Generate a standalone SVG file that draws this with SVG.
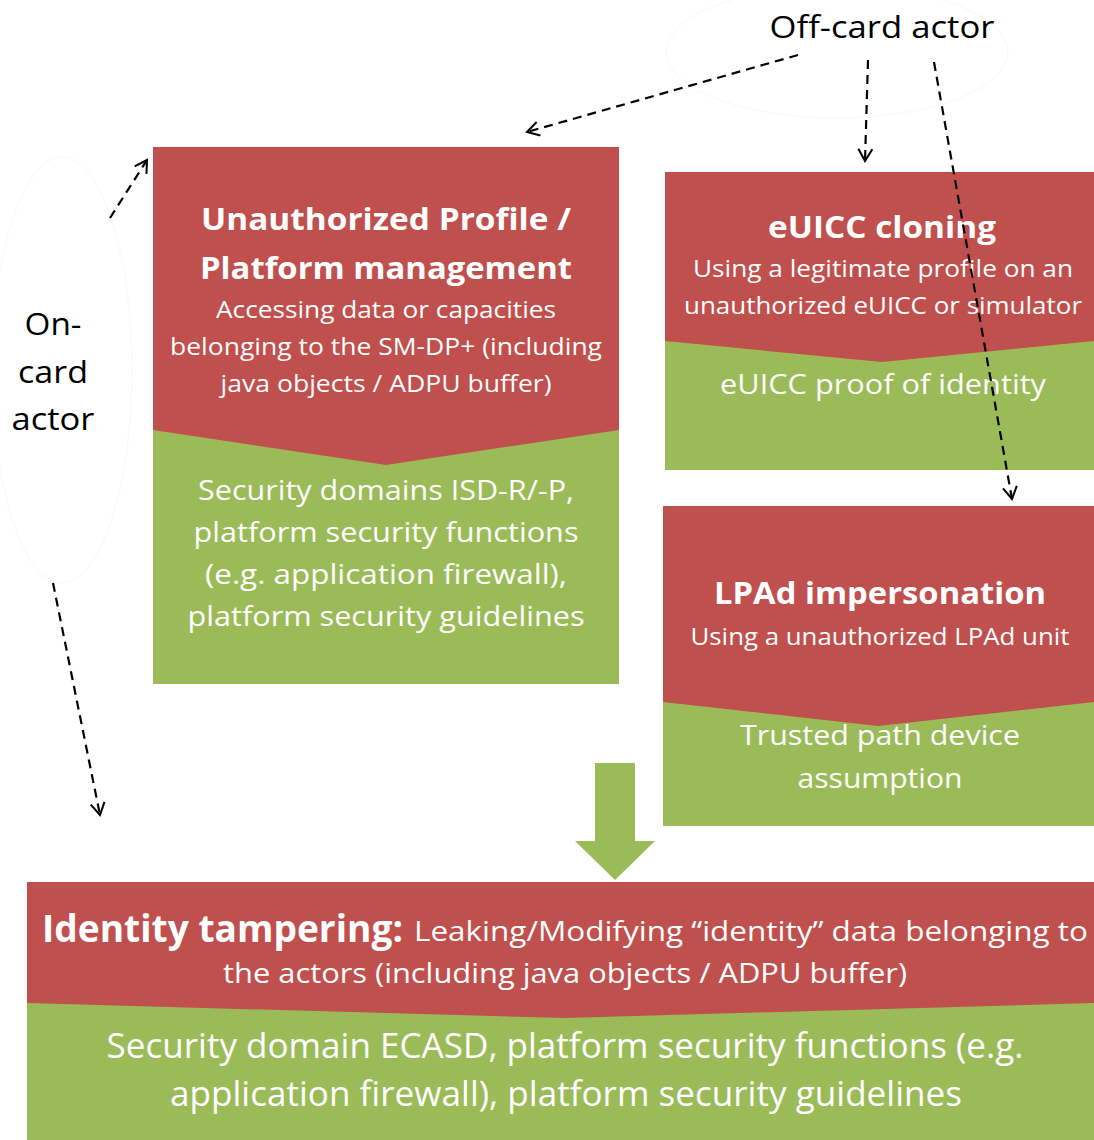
<svg xmlns="http://www.w3.org/2000/svg" width="1094" height="1140" viewBox="0 0 1094 1140">
  <style>
    .red { fill: #C0504D; }
    .green { fill: #9BBB59; }
    .t { font-family: "Open Sans", "Noto Sans", "Liberation Sans", sans-serif; fill: #ffffff; text-anchor: middle; }
    .title { font-weight: bold; font-size: 31px; }
    .sub { font-size: 23px; }
    .ctl { font-size: 27px; }
    .actor { font-family: "Open Sans", "Noto Sans", "Liberation Sans", sans-serif; fill: #000000; text-anchor: middle; font-size: 31px; }
    .dash { fill: none; stroke: #000000; stroke-width: 2.2; stroke-dasharray: 9 6; }
    .halo { fill: none; stroke: #f7f7f7; stroke-width: 1; }
  </style>
  <defs>
    <marker id="open" viewBox="0 0 16 16" refX="14" refY="8" markerWidth="16" markerHeight="16" markerUnits="userSpaceOnUse" orient="auto">
      <path d="M2,1 L14,8 L2,15" fill="none" stroke="#000000" stroke-width="2"/>
    </marker>
  </defs>

  <rect width="1094" height="1140" fill="#ffffff"/>

  <!-- actors -->
  <g id="off-card-actor">
    <ellipse class="halo" cx="837" cy="52" rx="171" ry="66"/>
    <text class="actor" x="882" y="38" textLength="225" lengthAdjust="spacingAndGlyphs">Off-card actor</text>
  </g>
  <g id="on-card-actor">
    <ellipse class="halo" cx="62" cy="370" rx="70" ry="213"/>
    <text class="actor" x="53" y="335" textLength="57" lengthAdjust="spacingAndGlyphs">On-</text>
    <text class="actor" x="53" y="383" textLength="70" lengthAdjust="spacingAndGlyphs">card</text>
    <text class="actor" x="53" y="430" textLength="83" lengthAdjust="spacingAndGlyphs">actor</text>
  </g>

  <!-- Unauthorized Profile / Platform management -->
  <g id="platform-management">
    <rect class="green" x="153" y="147" width="466" height="537"/>
    <polygon class="red" points="153,147 619,147 619,430 386,465 153,430"/>
    <text class="t title" x="386" y="230" textLength="370" lengthAdjust="spacingAndGlyphs">Unauthorized Profile /</text>
    <text class="t title" x="386" y="279" textLength="372" lengthAdjust="spacingAndGlyphs">Platform management</text>
    <text class="t sub" x="386" y="318" textLength="340" lengthAdjust="spacingAndGlyphs">Accessing data or capacities</text>
    <text class="t sub" x="386" y="355" textLength="432" lengthAdjust="spacingAndGlyphs">belonging to the SM-DP+ (including</text>
    <text class="t sub" x="386" y="392" textLength="331" lengthAdjust="spacingAndGlyphs">java objects / ADPU buffer)</text>
    <text class="t ctl" x="386" y="500" textLength="376" lengthAdjust="spacingAndGlyphs">Security domains ISD-R/-P,</text>
    <text class="t ctl" x="386" y="542" textLength="385" lengthAdjust="spacingAndGlyphs">platform security functions</text>
    <text class="t ctl" x="386" y="584" textLength="362" lengthAdjust="spacingAndGlyphs">(e.g. application firewall),</text>
    <text class="t ctl" x="386" y="626" textLength="397" lengthAdjust="spacingAndGlyphs">platform security guidelines</text>
  </g>

  <!-- eUICC cloning -->
  <g id="euicc-cloning">
    <rect class="green" x="665" y="172" width="429" height="298"/>
    <polygon class="red" points="665,172 1094,172 1094,341 882,362 665,341"/>
    <text class="t title" x="882" y="238" textLength="228" lengthAdjust="spacingAndGlyphs">eUICC cloning</text>
    <text class="t sub" x="883" y="277" textLength="380" lengthAdjust="spacingAndGlyphs">Using a legitimate profile on an</text>
    <text class="t sub" x="883" y="314" textLength="398" lengthAdjust="spacingAndGlyphs">unauthorized eUICC or simulator</text>
    <text class="t ctl" x="883" y="394" textLength="326" lengthAdjust="spacingAndGlyphs">eUICC proof of identity</text>
  </g>

  <!-- LPAd impersonation -->
  <g id="lpad-impersonation">
    <rect class="green" x="663" y="506" width="431" height="320"/>
    <polygon class="red" points="663,506 1094,506 1094,702 878,726 663,702"/>
    <text class="t title" x="880" y="604" textLength="332" lengthAdjust="spacingAndGlyphs">LPAd impersonation</text>
    <text class="t sub" x="880" y="645" textLength="379" lengthAdjust="spacingAndGlyphs">Using a unauthorized LPAd unit</text>
    <text class="t ctl" x="880" y="745" textLength="280" lengthAdjust="spacingAndGlyphs">Trusted path device</text>
    <text class="t ctl" x="880" y="788" textLength="165" lengthAdjust="spacingAndGlyphs">assumption</text>
  </g>

  <!-- Identity tampering -->
  <g id="identity-tampering">
    <rect class="green" x="27" y="882" width="1067" height="258"/>
    <polygon class="red" points="27,882 1094,882 1094,1003 565,1018 27,1003"/>
    <text class="t" x="42" y="942" style="text-anchor:start"><tspan font-weight="bold" font-size="38" textLength="361" lengthAdjust="spacingAndGlyphs">Identity tampering:</tspan></text>
    <text class="t" x="414" y="941" font-size="28" style="text-anchor:start" textLength="674" lengthAdjust="spacingAndGlyphs">Leaking/Modifying “identity” data belonging to</text>
    <text class="t" x="565" y="983" font-size="28" textLength="684" lengthAdjust="spacingAndGlyphs">the actors (including java objects / ADPU buffer)</text>
    <text class="t" x="565" y="1058" font-size="34" textLength="917" lengthAdjust="spacingAndGlyphs">Security domain ECASD, platform security functions (e.g.</text>
    <text class="t" x="566" y="1106" font-size="34" textLength="792" lengthAdjust="spacingAndGlyphs">application firewall), platform security guidelines</text>
  </g>

  <!-- block arrow into identity tampering -->
  <g id="flow-arrow">
    <polygon class="green" points="595,763 635,763 635,841 655,841 615,880 575,841 595,841"/>
  </g>

  <!-- actor connectors -->
  <g id="connectors">
    <line class="dash" x1="798" y1="55" x2="527" y2="132" marker-end="url(#open)"/>
    <line class="dash" x1="868" y1="60" x2="865" y2="161" marker-end="url(#open)"/>
    <line class="dash" x1="934" y1="62" x2="1012" y2="499" marker-end="url(#open)"/>
    <line class="dash" x1="110" y1="218" x2="147" y2="160" marker-end="url(#open)"/>
    <line class="dash" x1="53" y1="583" x2="100" y2="815" marker-end="url(#open)"/>
  </g>
</svg>
